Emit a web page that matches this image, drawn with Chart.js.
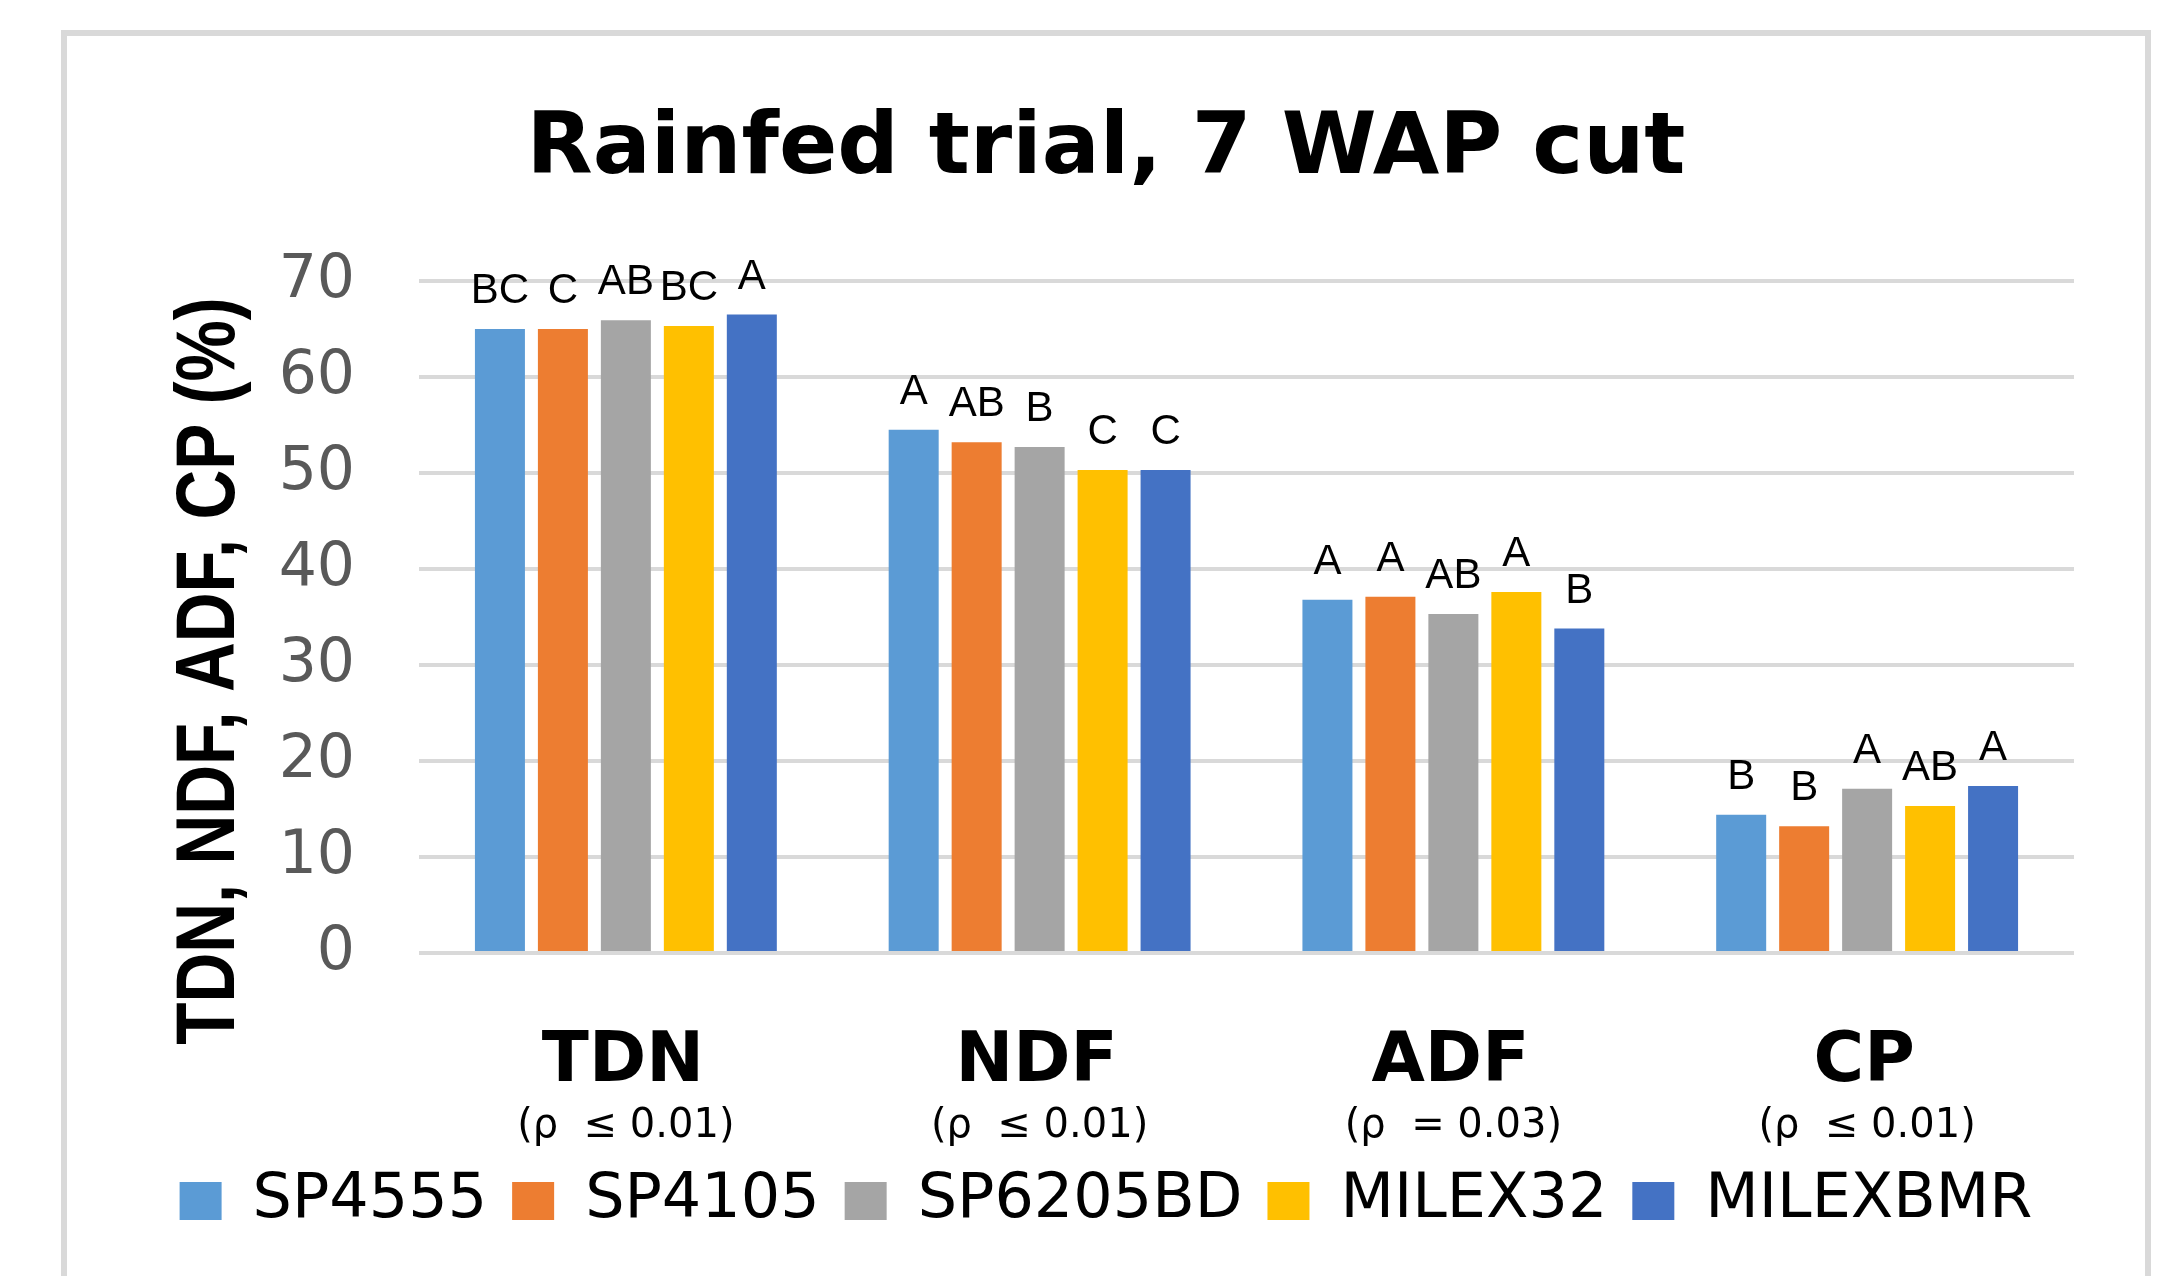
<!DOCTYPE html>
<html>
<head>
<meta charset="utf-8">
<script src="https://cdn.jsdelivr.net/npm/chart.js@4.4.1/dist/chart.umd.min.js"></script>
<style>
  html, body { margin: 0; padding: 0; background: #ffffff; overflow: hidden; }
  body { width: 2174px; height: 1276px; position: relative; }
  #frame { position: absolute; left: 61px; top: 30px; width: 2078px; height: 1300px;
           border: 6px solid #d9d9d9; border-bottom: none; box-sizing: content-box; }
  #wrap { position: absolute; left: 62px; top: 0px; width: 2088px; height: 1276px; }
</style>
</head>
<body>
<div id="frame"></div>
<div id="wrap"><canvas id="c"></canvas></div>
<script>
// ---- data ----
const categories = ['TDN', 'NDF', 'ADF', 'CP'];
const pLabels = ['(\u03C1  \u2264 0.01)', '(\u03C1  \u2264 0.01)', '(\u03C1  = 0.03)', '(\u03C1  \u2264 0.01)'];
const seriesNames = ['SP4555', 'SP4105', 'SP6205BD', 'MILEX32', 'MILEXBMR'];
const SP4555   = [65.0, 54.5, 36.8, 14.4];
const SP4105   = [65.0, 53.2, 37.1, 13.2];
const SP6205BD = [65.9, 52.7, 35.3, 17.1];
const MILEX32  = [65.3, 50.3, 37.6, 15.3];
const MILEXBMR = [66.5, 50.3, 33.8, 17.4];
const lettersSP4555   = ['BC', 'A', 'A', 'B'];
const lettersSP4105   = ['C', 'AB', 'A', 'B'];
const lettersSP6205BD = ['AB', 'B', 'AB', 'A'];
const lettersMILEX32  = ['BC', 'C', 'A', 'AB'];
const lettersMILEXBMR = ['A', 'C', 'B', 'A'];
const yTicks = [0, 10, 20, 30, 40, 50, 60, 70];
const titleText = 'Rainfed trial, 7 WAP cut';
const yTitleText = 'TDN, NDF, ADF, CP (%)';

const seriesValues = [SP4555, SP4105, SP6205BD, MILEX32, MILEXBMR];
const seriesLetters = [lettersSP4555, lettersSP4105, lettersSP6205BD, lettersMILEX32, lettersMILEXBMR];
const colors = ['#5B9BD5', '#ED7D31', '#A5A5A5', '#FFC000', '#4472C4'];

// ---- plugins ----
const letterPlugin = {
  id: 'letters',
  afterDatasetsDraw(chart) {
    const ctx = chart.ctx;
    ctx.save();
    ctx.font = '42px "Liberation Sans", Arial, sans-serif';
    ctx.fillStyle = '#000000';
    ctx.textAlign = 'center';
    ctx.textBaseline = 'alphabetic';
    chart.data.datasets.forEach((ds, i) => {
      const meta = chart.getDatasetMeta(i);
      meta.data.forEach((bar, j) => {
        ctx.fillText(seriesLetters[i][j], bar.x, bar.y - 26);
      });
    });
    ctx.restore();
  }
};

const xLabelPlugin = {
  id: 'xlabels',
  afterDraw(chart) {
    const ctx = chart.ctx;
    const xs = chart.scales.x;
    ctx.save();
    ctx.fillStyle = '#000000';
    ctx.textAlign = 'center';
    ctx.textBaseline = 'alphabetic';
    categories.forEach((c, i) => {
      const x = xs.getPixelForValue(i);
      ctx.font = 'bold 69px "DejaVu Sans", sans-serif';
      ctx.fillText(c, x - 3, 1081);
      ctx.font = '40px "DejaVu Sans", sans-serif';
      ctx.fillText(pLabels[i], x, 1137);
    });
    ctx.restore();
  }
};

const yTitlePlugin = {
  id: 'ytitle',
  afterDraw(chart) {
    const ctx = chart.ctx;
    const ys = chart.scales.y;
    ctx.save();
    ctx.translate(172, (ys.top + ys.bottom) / 2 + 54);
    ctx.rotate(-Math.PI / 2);
    ctx.scale(1, 1.2);
    ctx.font = 'bold 69px "Liberation Sans", Arial, sans-serif';
    ctx.fillStyle = '#000000';
    ctx.textAlign = 'center';
    ctx.textBaseline = 'alphabetic';
    ctx.fillText(yTitleText, 0, 0);
    ctx.restore();
  }
};

new Chart(document.getElementById('c'), {
  type: 'bar',
  data: {
    labels: categories,
    datasets: seriesNames.map((n, i) => ({
      label: n,
      data: seriesValues[i],
      backgroundColor: colors[i],
      borderWidth: 0,
      categoryPercentage: 0.761,
      barPercentage: 0.794
    }))
  },
  options: {
    responsive: true,
    maintainAspectRatio: false,
    animation: false,
    events: [],
    layout: { padding: { left: 0, right: 0, top: 0, bottom: 34 } },
    plugins: {
      title: {
        display: true,
        text: titleText,
        color: '#000000',
        font: { family: '"DejaVu Sans", sans-serif', size: 86, weight: 'bold', lineHeight: 1 },
        padding: { top: 108, bottom: 87 }
      },
      legend: {
        display: true,
        position: 'bottom',
        labels: {
          color: '#000000',
          font: { family: '"DejaVu Sans", sans-serif', size: 62 },
          boxWidth: 42,
          boxHeight: 38,
          padding: 25
        }
      },
      tooltip: { enabled: false }
    },
    scales: {
      x: {
        grid: { display: false },
        border: { display: false },
        ticks: { display: false },
        afterFit(scale) { scale.height = 192; }
      },
      y: {
        min: 0,
        max: 70,
        afterBuildTicks(scale) { scale.ticks = yTicks.map(v => ({ value: v })); },
        grid: { color: '#d9d9d9', lineWidth: 4, drawTicks: false },
        border: { display: false },
        ticks: {
          color: '#595959',
          padding: 64,
          font: { family: '"DejaVu Sans", sans-serif', size: 60 }
        },
        afterFit(scale) { scale.width = 357; }
      },
      y2: {
        position: 'right',
        display: true,
        grid: { display: false },
        border: { display: false },
        ticks: { display: false },
        afterFit(scale) { scale.width = 76; }
      }
    }
  },
  plugins: [letterPlugin, xLabelPlugin, yTitlePlugin]
});
</script>
</body>
</html>
